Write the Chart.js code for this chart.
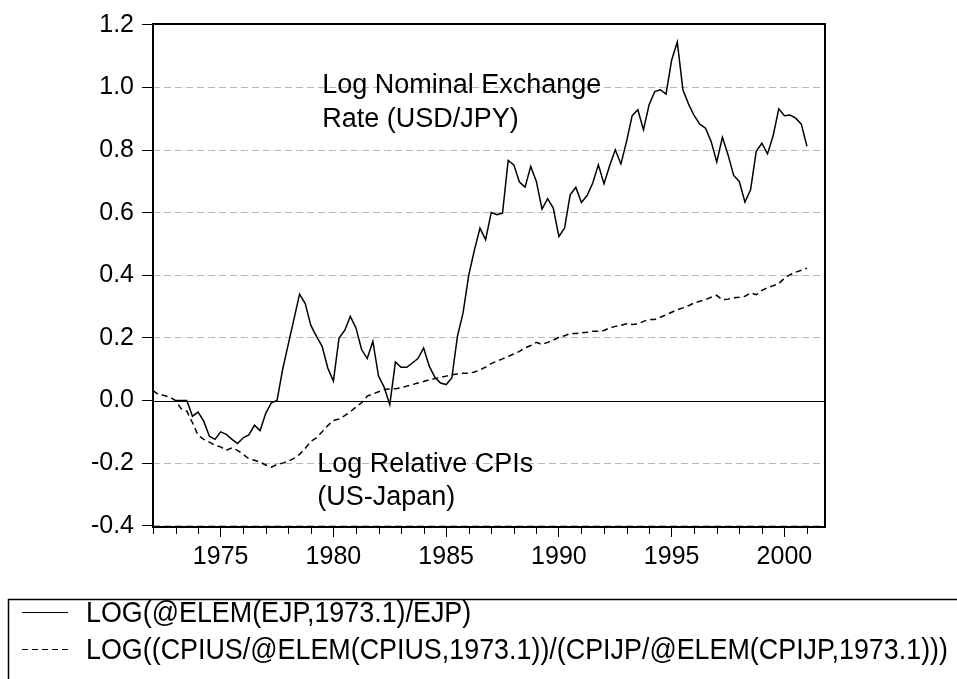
<!DOCTYPE html>
<html>
<head>
<meta charset="utf-8">
<script src="https://cdn.jsdelivr.net/npm/chart.js@4.4.1/dist/chart.umd.min.js"></script>
<style>
  html, body { margin: 0; padding: 0; background: #fff; }
  canvas { display: block; }
</style>
</head>
<body>
<canvas id="chart" width="957" height="679" style="width:957px;height:679px"></canvas>
<script>
// quarterly observations, first one is 1972Q1
const startYear = 1972;

// LOG(@ELEM(EJP,1973.1)/EJP) - no values before 1973Q1
const exchRate = [
  null, null, null, null,
  0.0, 0.0, 0.0, -0.05,
  -0.037, -0.066, -0.114, -0.124,
  -0.1, -0.108, -0.124, -0.137,
  -0.119, -0.11, -0.079, -0.096,
  -0.041, -0.007, 0.0, 0.1,
  0.18, 0.26, 0.34, 0.31,
  0.24, 0.205, 0.173, 0.104,
  0.062, 0.2, 0.224, 0.269,
  0.232, 0.163, 0.134, 0.189,
  0.078, 0.043, -0.013, 0.123,
  0.106, 0.106, 0.12, 0.134,
  0.168, 0.11, 0.074, 0.056,
  0.051, 0.072, 0.205, 0.28,
  0.40, 0.48, 0.551, 0.514,
  0.601, 0.594, 0.599, 0.767,
  0.753, 0.698, 0.682, 0.748,
  0.70, 0.612, 0.645, 0.615,
  0.524, 0.551, 0.657, 0.681,
  0.633, 0.655, 0.695, 0.753,
  0.693, 0.75, 0.801, 0.756,
  0.828, 0.91, 0.929, 0.865,
  0.945, 0.987, 0.993, 0.979,
  1.088, 1.145, 0.993, 0.947,
  0.91, 0.883, 0.87, 0.828,
  0.762, 0.841, 0.785, 0.719,
  0.70, 0.634, 0.673, 0.796,
  0.822, 0.788, 0.846, 0.932,
  0.91, 0.912, 0.902, 0.883,
  0.812
];

// LOG((CPIUS/@ELEM(CPIUS,1973.1))/(CPIJP/@ELEM(CPIJP,1973.1)))
const relCPI = [
  0.032, 0.019, 0.016, 0.011,
  0.0, -0.026, -0.034, -0.071,
  -0.111, -0.124, -0.133, -0.143,
  -0.148, -0.159, -0.151, -0.159,
  -0.172, -0.186, -0.191, -0.197,
  -0.206, -0.213, -0.204, -0.2,
  -0.194, -0.185, -0.172, -0.153,
  -0.13, -0.119, -0.1, -0.08,
  -0.064, -0.059, -0.048, -0.036,
  -0.021, -0.007, 0.014, 0.021,
  0.028, 0.035, 0.037, 0.038,
  0.041, 0.046, 0.051, 0.056,
  0.061, 0.066, 0.07, 0.074,
  0.078, 0.082, 0.085, 0.087,
  0.087, 0.091, 0.098, 0.107,
  0.118, 0.126, 0.133, 0.141,
  0.149, 0.157, 0.168, 0.176,
  0.186, 0.179, 0.186, 0.193,
  0.202, 0.207, 0.214, 0.214,
  0.216, 0.218, 0.221, 0.221,
  0.224, 0.232, 0.237, 0.24,
  0.245, 0.243, 0.245, 0.253,
  0.259, 0.259, 0.266, 0.274,
  0.282, 0.29, 0.296, 0.303,
  0.312, 0.317, 0.322, 0.33,
  0.336, 0.322, 0.324, 0.328,
  0.33, 0.333, 0.344, 0.338,
  0.352, 0.36, 0.367, 0.373,
  0.391, 0.402, 0.41, 0.416,
  0.423
];

const legendLabels = [
  'LOG(@ELEM(EJP,1973.1)/EJP)',
  'LOG((CPIUS/@ELEM(CPIUS,1973.1))/(CPIJP/@ELEM(CPIJP,1973.1)))'
];

// in-plot captions: text lines, anchored at [year, value] of first baseline
const captions = [
  { lines: ['Log Nominal Exchange', 'Rate (USD/JPY)'], at: [1979.5, 0.982] },
  { lines: ['Log Relative CPIs', '(US-Japan)'], at: [1979.28, -0.228] }
];

const FONT = "'Liberation Sans', Arial, Helvetica, sans-serif";

function toPoints(values) {
  return values.map((v, i) => ({ x: startYear + i / 4, y: v }));
}

// zero line, minor year ticks and the plot frame
const framePlugin = {
  id: 'frame',
  beforeDatasetsDraw(chart) {
    const { ctx, chartArea: a, scales } = chart;
    const y0 = Math.round(scales.y.getPixelForValue(0)) + 0.5;
    ctx.save();
    ctx.strokeStyle = '#000';
    ctx.lineWidth = 1;
    ctx.beginPath();
    ctx.moveTo(a.left, y0);
    ctx.lineTo(a.right, y0);
    ctx.stroke();
    ctx.restore();
  },
  afterDraw(chart) {
    const { ctx, chartArea: a, scales } = chart;
    ctx.save();
    ctx.strokeStyle = '#000';
    ctx.lineWidth = 1;
    for (let yr = Math.ceil(scales.x.min); yr <= scales.x.max; yr++) {
      if (yr % 5 === 0) continue;
      const x = Math.round(scales.x.getPixelForValue(yr)) + 0.5;
      ctx.beginPath();
      ctx.moveTo(x, a.bottom);
      ctx.lineTo(x, a.bottom + 7);
      ctx.stroke();
    }
    ctx.lineWidth = 2;
    ctx.strokeRect(a.left, a.top, a.right - a.left, a.bottom - a.top);
    ctx.restore();
  }
};

const captionPlugin = {
  id: 'captions',
  afterDatasetsDraw(chart) {
    const { ctx, scales } = chart;
    ctx.save();
    ctx.fillStyle = '#000';
    ctx.font = '27px ' + FONT;
    ctx.textBaseline = 'alphabetic';
    captions.forEach(c => {
      const x = scales.x.getPixelForValue(c.at[0]);
      const y = scales.y.getPixelForValue(c.at[1]);
      c.lines.forEach((t, i) => ctx.fillText(t, x, y + i * 33.5));
    });
    ctx.restore();
  }
};

// EViews style legend box under the plot
const boxLegend = {
  id: 'boxLegend',
  afterDraw(chart) {
    const ctx = chart.ctx;
    const rows = [612, 649];
    ctx.save();
    ctx.strokeStyle = '#000';
    ctx.lineWidth = 1.5;
    ctx.strokeRect(8.5, 599.5, 1000, 200);

    chart.data.datasets.forEach((ds, i) => {
      ctx.lineWidth = 1;
      ctx.setLineDash(ds.borderDash || []);
      ctx.beginPath();
      ctx.moveTo(22, rows[i] + 0.5);
      ctx.lineTo(68, rows[i] + 0.5);
      ctx.stroke();
    });
    ctx.setLineDash([]);

    // the legend text is drawn narrow, like the original
    ctx.font = '30px ' + FONT;
    ctx.fillStyle = '#000';
    ctx.textBaseline = 'middle';
    const widest = Math.max(...legendLabels.map(t => ctx.measureText(t).width));
    const sx = Math.min(1, 862 / widest);
    legendLabels.forEach((t, i) => {
      ctx.save();
      ctx.translate(86, rows[i] + 2);
      ctx.scale(sx, 1);
      ctx.fillText(t, 0, 0);
      ctx.restore();
    });
    ctx.restore();
  }
};

new Chart(document.getElementById('chart'), {
  type: 'line',
  data: {
    datasets: [
      {
        label: legendLabels[0],
        data: toPoints(exchRate),
        borderColor: '#000',
        borderWidth: 1.5,
        pointRadius: 0,
        tension: 0,
        fill: false
      },
      {
        label: legendLabels[1],
        data: toPoints(relCPI),
        borderColor: '#000',
        borderWidth: 1.5,
        borderDash: [6, 4],
        pointRadius: 0,
        tension: 0,
        fill: false
      }
    ]
  },
  options: {
    responsive: false,
    animation: false,
    events: [],
    layout: { padding: { left: 0, top: 24, right: 132, bottom: 102 } },
    plugins: {
      legend: { display: false },
      tooltip: { enabled: false }
    },
    scales: {
      x: {
        type: 'linear',
        min: 1972,
        max: 2001.8,
        grid: { drawOnChartArea: false, drawTicks: true, tickLength: 10, tickColor: '#000' },
        border: { display: false },
        ticks: {
          stepSize: 5,
          includeBounds: false,
          autoSkip: false,
          maxRotation: 0,
          padding: 5,
          color: '#000',
          font: { family: FONT, size: 25 },
          callback: v => String(v)
        },
        afterFit: s => { s.height = 50; }
      },
      y: {
        min: -0.404,
        max: 1.203,
        grid: {
          color: c => (c.tick && c.tick.value === 0) ? 'rgba(0,0,0,0)' : '#b8b8b8',
          lineWidth: 1,
          drawTicks: true,
          tickLength: 11,
          tickColor: '#000'
        },
        border: { display: false, dash: [7, 4] },
        ticks: {
          stepSize: 0.2,
          includeBounds: false,
          padding: 8,
          color: '#000',
          font: { family: FONT, size: 25 },
          callback: v => v.toFixed(1)
        },
        afterFit: s => { s.width = 153; }
      }
    }
  },
  plugins: [framePlugin, captionPlugin, boxLegend]
});
</script>
</body>
</html>
